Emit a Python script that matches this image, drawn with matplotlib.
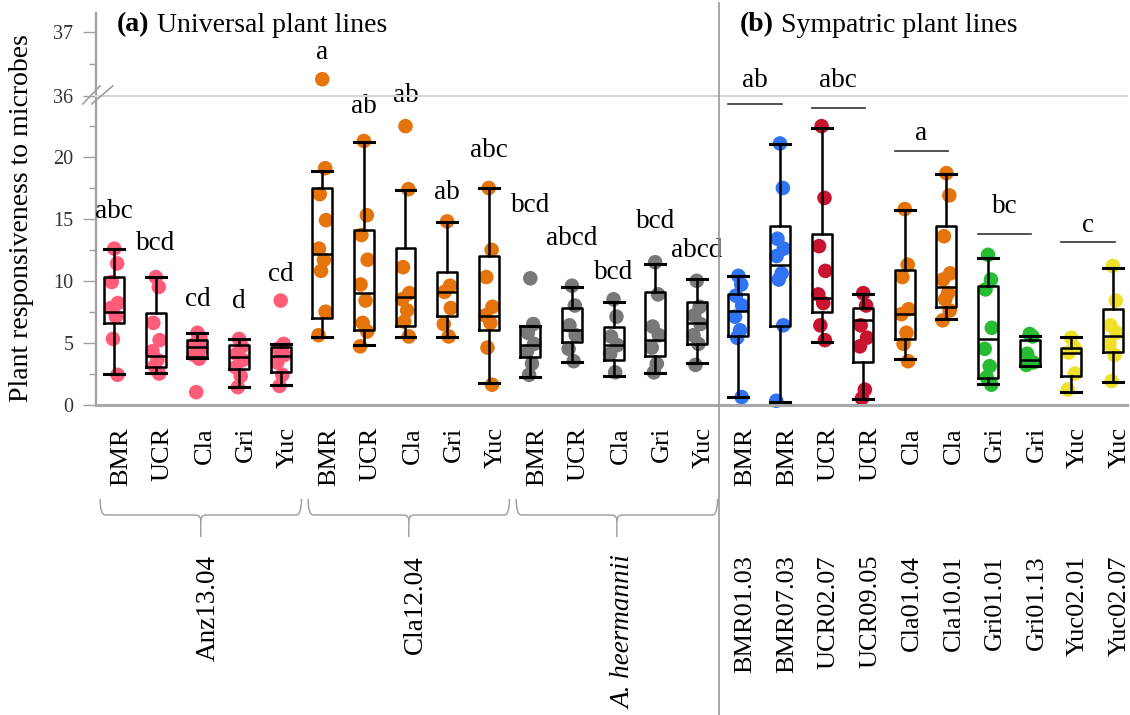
"""
Plant responsiveness to microbes: universal vs sympatric plant lines.
Broken y-axis box plots with individual points.
"""
import numpy as np
import matplotlib
matplotlib.use("Agg")
import matplotlib.pyplot as plt
import matplotlib.transforms as mtransforms
from matplotlib.path import Path
from matplotlib.patches import PathPatch
from matplotlib.lines import Line2D

plt.rcParams["font.family"] = ["Liberation Serif", "DejaVu Serif"]

W, H = 1130, 715

# ── Data ───────────────────────────────────────────────────────
microbes = ["BMR", "UCR", "Cla", "Gri", "Yuc"]
universal_lines = ["Anz13.04", "Cla12.04", "A. heermannii"]
sympatric_microbes = ["BMR", "BMR", "UCR", "UCR", "Cla", "Cla",
                      "Gri", "Gri", "Yuc", "Yuc"]
sympatric_lines = ["BMR01.03", "BMR07.03", "UCR02.07", "UCR09.05",
                   "Cla01.04", "Cla10.01", "Gri01.01", "Gri01.13",
                   "Yuc02.01", "Yuc02.07"]

anz_points = [
    [12.6, 11.4, 9.9, 8.2, 7.8, 7.1, 5.3, 2.4],
    [10.3, 9.5, 6.6, 5.2, 4.3, 3.6, 3.1, 2.5],
    [5.8, 5.4, 4.9, 4.5, 4.0, 3.7, 1.0],
    [5.3, 4.7, 4.1, 3.6, 3.0, 2.3, 1.4],
    [8.4, 4.9, 4.5, 4.0, 3.4, 2.4, 1.5],
]
cla_points = [
    [36.26, 19.1, 17.0, 14.9, 12.6, 11.7, 10.8, 7.5, 5.6],
    [21.3, 15.3, 13.7, 11.7, 9.7, 8.4, 6.6, 5.9, 4.7],
    [22.5, 17.4, 11.1, 9.0, 8.5, 7.6, 6.7, 5.5],
    [14.8, 9.6, 9.1, 7.8, 6.5, 5.5],
    [17.5, 12.5, 10.3, 7.9, 7.2, 6.6, 4.6, 1.6],
]
aheer_points = [
    [10.2, 6.5, 5.8, 4.9, 4.3, 3.3, 2.4],
    [9.6, 8.0, 6.4, 5.6, 4.5, 3.5],
    [8.5, 7.1, 5.5, 4.8, 4.1, 2.6],
    [11.5, 8.9, 6.3, 5.6, 4.6, 3.3, 2.6],
    [10.0, 7.9, 7.2, 6.5, 5.6, 4.9, 3.2],
]
symp_points = [
    [10.4, 9.7, 8.8, 8.0, 7.1, 6.0, 5.4, 0.6],
    [21.1, 17.5, 13.4, 12.6, 12.0, 10.6, 10.1, 6.4, 0.3],
    [22.5, 16.7, 12.8, 10.8, 8.9, 8.2, 6.4, 5.2],
    [9.0, 8.0, 6.4, 5.4, 4.7, 1.2, 0.5],
    [15.8, 11.3, 10.3, 7.7, 7.3, 5.8, 4.9, 3.5],
    [18.7, 16.9, 13.6, 10.6, 10.1, 9.0, 8.5, 7.6, 6.8],
    [12.1, 10.1, 9.3, 6.2, 4.5, 3.1, 2.2, 1.6],
    [5.7, 5.5, 4.1, 3.4, 3.2],
    [5.4, 4.6, 4.2, 2.5, 1.2],
    [11.2, 8.4, 6.4, 5.8, 4.9, 4.0, 1.9],
]

# box stats: (whislo, q1, median, q3, whishi)
anz_stats = [(2.5, 6.56, 7.5, 10.28, 12.55), (2.52, 3.06, 3.95, 7.37, 10.28),
             (3.73, 3.87, 4.62, 5.21, 5.8), (1.44, 2.87, 3.81, 4.78, 5.27),
             (1.58, 2.65, 3.95, 4.67, 4.89)]
cla_stats = [(5.43, 7.02, 12.14, 17.48, 18.9), (4.81, 6.02, 8.99, 14.11, 21.22),
             (5.43, 6.37, 8.67, 12.63, 17.34), (5.43, 7.18, 9.12, 10.69, 14.75),
             (1.71, 6.02, 7.18, 12.03, 17.53)]
aheer_stats = [(2.2, 3.81, 4.81, 6.37, 6.37), (3.46, 5.03, 6.02, 7.83, 9.47),
               (2.33, 3.6, 4.81, 6.24, 8.26), (2.57, 3.95, 5.21, 9.07, 11.33),
               (3.33, 4.89, 6.56, 8.26, 10.12)]
symp_stats = [(0.58, 5.56, 7.59, 8.93, 10.41), (0.23, 6.35, 11.28, 14.43, 21.06),
              (5.08, 7.5, 8.58, 13.78, 22.33), (0.42, 3.41, 6.83, 7.78, 8.93),
              (3.65, 5.27, 7.32, 10.87, 15.72), (6.89, 7.91, 9.47, 14.43, 18.61),
              (1.63, 2.17, 5.3, 9.58, 11.82), (3.14, 3.14, 3.6, 5.21, 5.56),
              (1.04, 2.33, 4.14, 4.54, 5.43), (1.85, 4.27, 5.54, 7.7, 11.06)]

letters_a = ["abc", "bcd", "cd", "d", "cd", "a", "ab", "ab", "ab", "abc",
             "bcd", "abcd", "bcd", "bcd", "abcd"]
letter_y_a = [15.05, 12.49, 7.99, 7.78, 10.01, 27.9, 23.55, 24.48, 16.61,
              20.03, 15.54, 12.9, 10.12, 14.24, 11.95]
letters_b = ["ab", "abc", "a", "bc", "c"]
letter_y_b = [25.64, 25.64, 21.38, 15.46, 13.97]
line_y_b = [24.27, 23.95, 20.49, 13.78, 13.11]

# ── Styling ────────────────────────────────────────────────────
PINK, ORANGE, GREY = "#ff5c7a", "#e5740c", "#787878"
BLUE, RED, GREEN, YELLOW = "#2f74f2", "#c8142f", "#26bd33", "#efe02a"
colors_a = [PINK] * 5 + [ORANGE] * 5 + [GREY] * 5
colors_b = [BLUE, BLUE, RED, RED, ORANGE, ORANGE, GREEN, GREEN, YELLOW, YELLOW]
JITTER = [0.0, 0.07, -0.06, 0.09, -0.08, 0.04, -0.03, 0.08, -0.09]

all_points = anz_points + cla_points + aheer_points + symp_points
all_stats = anz_stats + cla_stats + aheer_stats + symp_stats
all_colors = colors_a + colors_b
positions = np.arange(len(all_points))


def fy(ypx):
    return 1 - ypx / H


fig = plt.figure(figsize=(W / 100, H / 100), dpi=100)
left, right = 95.5 / W, 1127 / W
ax = fig.add_axes([left, fy(404.5), right - left, (404.5 - 95.7) / H])
axu = fig.add_axes([left, fy(95.7), right - left, (95.7 - 12.7) / H], sharex=ax)

ax.set_xlim(-0.45, 24.34)
ax.set_ylim(0, 24.96)
axu.set_ylim(36, 37.31)

# points
for i, (vals, col) in enumerate(zip(all_points, all_colors)):
    vals = np.asarray(vals)
    xs = i + np.array([JITTER[k % len(JITTER)] for k in range(len(vals))])
    low = vals < 30
    ax.scatter(xs[low], vals[low], s=110, color=col, edgecolors="none",
               zorder=2, clip_on=False)
    if (~low).any():
        axu.scatter(xs[~low], vals[~low], s=110, color=col, edgecolors="none",
                    zorder=2)

# boxes
bstats = [dict(whislo=s[0], q1=s[1], med=s[2], q3=s[3], whishi=s[4], fliers=[])
          for s in all_stats]
lw = 1.8
ax.bxp(bstats, positions=positions, widths=0.48, capwidths=0.48,
       showfliers=False, manage_ticks=False,
       boxprops=dict(color="black", linewidth=lw),
       whiskerprops=dict(color="black", linewidth=lw),
       capprops=dict(color="black", linewidth=2.2),
       medianprops=dict(color="black", linewidth=lw),
       zorder=3)

# ── Axes styling ───────────────────────────────────────────────
for a in (ax, axu):
    a.spines["right"].set_visible(False)
    a.spines["top"].set_visible(False)
    a.spines["left"].set_color("#a0a0a0")
    a.spines["left"].set_linewidth(1.6)
    a.tick_params(axis="y", which="major", length=9.4, width=1,
                  color="#a0a0a0", labelsize=14.5, labelcolor="#333333", pad=6.5)
    a.tick_params(axis="y", which="minor", length=5, width=1, color="#a0a0a0")
    a.patch.set_alpha(0)

ax.spines["bottom"].set_color("#a8a8a8")
ax.spines["bottom"].set_linewidth(2.2)
axu.spines["bottom"].set_color("#d6d6d6")
axu.spines["bottom"].set_linewidth(1.5)

ax.set_yticks([0, 5, 10, 15, 20])
ax.set_yticks(np.arange(2.5, 24, 5), minor=True)
axu.set_yticks([36, 37])
axu.set_yticks([36.5], minor=True)

ax.set_xticks([])
axu.tick_params(axis="x", which="both", bottom=False, labelbottom=False)

# ── X labels ───────────────────────────────────────────────────
shift = mtransforms.ScaledTranslation(7 / 100, 0, fig.dpi_scale_trans)
btr = mtransforms.blended_transform_factory(ax.transData, fig.transFigure)
lab_tr = btr + shift

short_labels = microbes * 3 + sympatric_microbes
for i, lab in enumerate(short_labels):
    ax.text(i, fy(427), lab, transform=lab_tr, rotation=90,
            ha="center", va="top", fontsize=19)
for j, lab in enumerate(sympatric_lines):
    ax.text(15 + j, fy(555), lab, transform=lab_tr, rotation=90,
            ha="center", va="top", fontsize=19)


# group braces
def brace(x0, x1, xt):
    d = 0.13
    yt, ym, yb = fy(499), fy(515), fy(537)
    e = 6 / H
    lv = [(x0, yt), (x0, ym), (x0 + d, ym), (xt - d, ym), (xt, ym),
          (xt, ym - e), (xt, yb)]
    lc = [Path.MOVETO, Path.CURVE3, Path.CURVE3, Path.LINETO, Path.CURVE3,
          Path.CURVE3, Path.LINETO]
    rv = [(xt, ym - e), (xt, ym), (xt + d, ym), (x1 - d, ym), (x1, ym), (x1, yt)]
    rc = [Path.MOVETO, Path.CURVE3, Path.CURVE3, Path.LINETO, Path.CURVE3,
          Path.CURVE3]
    for v, c in ((lv, lc), (rv, rc)):
        p = PathPatch(Path(v, c), transform=btr, fill=False,
                      edgecolor="#9a9a9a", linewidth=1.0, clip_on=False)
        ax.add_artist(p)


for g, name in enumerate(universal_lines):
    c = 2 + 5 * g
    brace(c - 2.34, c + 2.5, c + 0.08)
    ax.text(c + 0.08, fy(555), name, transform=lab_tr, rotation=90,
            ha="center", va="top", fontsize=19.5,
            style="italic" if name.startswith("A.") else "normal")

# ── Significance letters ───────────────────────────────────────
for i, (t, y) in enumerate(zip(letters_a, letter_y_a)):
    ax.text(i, y, t, ha="center", va="baseline", fontsize=19.5, clip_on=False)

for k, (t, y, ly) in enumerate(zip(letters_b, letter_y_b, line_y_b)):
    c = 15.5 + 2 * k - 0.1
    ax.text(c, y, t, ha="center", va="baseline", fontsize=19.5, clip_on=False)
    ax.plot([c - 0.64, c + 0.64], [ly, ly], color="#333333", lw=1.2,
            clip_on=False, zorder=3)

# ── Titles, y label, decorations ───────────────────────────────
for x0, rest, head in ((117, " Universal plant lines", "(a)"),
                       (740, " Sympatric plant lines", "(b)")):
    t1 = fig.text(x0 / W, fy(37.5), head, fontsize=20, fontweight="bold",
                  ha="left", va="bottom")
    ax.annotate(rest, xy=(1, 0), xycoords=t1, ha="left", va="bottom",
                fontsize=20, annotation_clip=False)

fig.text(22 / W, fy(218), "Plant responsiveness to microbes", rotation=90,
         ha="center", va="center", fontsize=20)

# separator between panels
fig.add_artist(Line2D([719.3 / W] * 2, [0, fy(3)], color="#9a9a9a", lw=1.2))

# break marks on the y axis
for xa, xb in ((82.7, 100.0), (91.7, 112.7)):
    fig.add_artist(Line2D([xa / W, xb / W], [fy(104), fy(86)],
                          color="#a0a0a0", lw=1.2))

fig.savefig("out.png", dpi=100)
